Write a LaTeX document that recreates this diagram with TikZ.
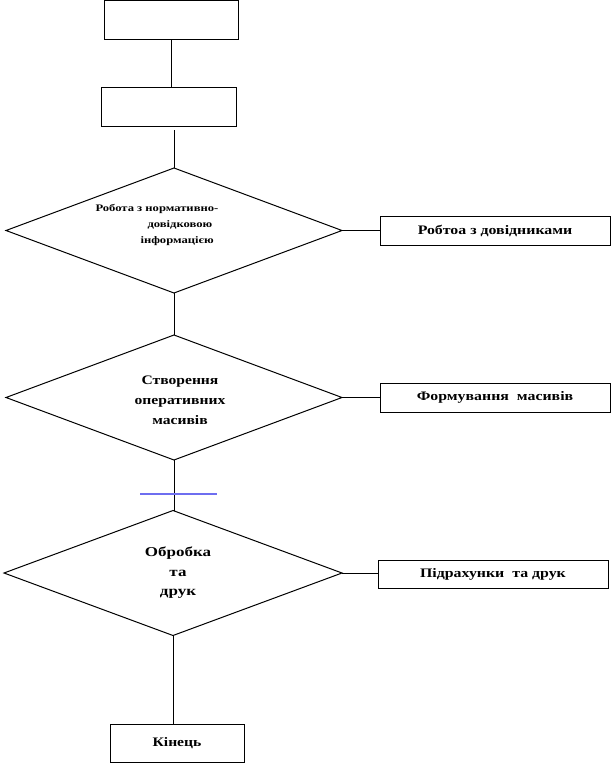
\documentclass[tikz,border=0pt]{standalone}
\usepackage{fontspec}
\setmainfont{Liberation Serif}
\usetikzlibrary{shapes.geometric}
\newcommand\wide[2][1.22]{\scalebox{#1}[1]{#2}}
\begin{document}
\begin{tikzpicture}[x=1pt,y=1pt,line width=1pt,
  box/.style={draw,rectangle,inner sep=0pt,outer sep=0pt,font=\bfseries\fontsize{13}{15}\selectfont},
  dia/.style={draw,diamond,inner sep=0pt,outer sep=0pt,minimum width=336pt,minimum height=125pt},
  dtext/.style={align=center,font=\bfseries\fontsize{13}{20}\selectfont},
  link/.style={draw,line width=1pt}]
\useasboundingbox (0,0) rectangle (614,-765);
\node[box,minimum width=134pt,minimum height=39pt] (b1) at (171,-20) {};
\node[box,minimum width=135pt,minimum height=39pt] (b2) at (168.5,-107.5) {};
\node[dia] (d1) at (174,-230.5) {};
\node[dtext,font=\bfseries\fontsize{10}{16}\selectfont,align=left,anchor=west,inner sep=0pt] (t1) at (95,-225) {\wide[1.26]{Робота з нормативно-}\\\hspace*{52pt}\wide[1.26]{довідковою}\\\hspace*{45pt}\wide[1.26]{інформацією}};
\node[box,minimum width=230pt,minimum height=29pt] (r1) at (495,-230.5) {\wide{Робтоа з довідниками}};
\node[dia] (d2) at (174,-397.5) {};
\node[dtext] (t2) at (180,-400) {\wide[1.2]{Створення}\\\wide[1.2]{оперативних}\\\wide[1.2]{масивів}};
\node[box,minimum width=230pt,minimum height=29pt] (r2) at (495,-397.5) {\wide{Формування\ \ масивів}};
\node[dia,minimum width=338pt] (d3) at (173,-573) {};
\node[dtext,font=\bfseries\fontsize{13.5}{19.5}\selectfont] (t3) at (178,-573) {\wide[1.26]{Обробка}\\\wide[1.26]{та}\\\wide[1.26]{друк}};
\node[box,minimum width=230pt,minimum height=28pt] (r3) at (493,-574) {\wide{Підрахунки\ \ та\ друк}};
\node[box,minimum width=134pt,minimum height=38pt] (e) at (177,-743) {\wide[1.2]{Кінець}};
\coordinate (bl1) at (140,-494);
\coordinate (bl2) at (217,-494);
\draw[link] (b1.south) -- (b1.south |- b2.north);
\draw[link] (d1.north) -- ([yshift=-3pt]d1.north |- b2.south);
\draw[link] (d1.east) -- (r1.west);
\draw[link] (d1.south) -- (d2.north);
\draw[link] (d2.east) -- (r2.west);
\draw[link] (d2.south) -- (d2.south |- d3.north);
\draw[link] (d3.east) -- (d3.east -| r3.west);
\draw[link] (d3.south) -- (d3.south |- e.north);
\draw[line width=1.3pt,color={rgb,255:red,110;green,110;blue,240}] (bl1) -- (bl2);
\end{tikzpicture}
\end{document}
